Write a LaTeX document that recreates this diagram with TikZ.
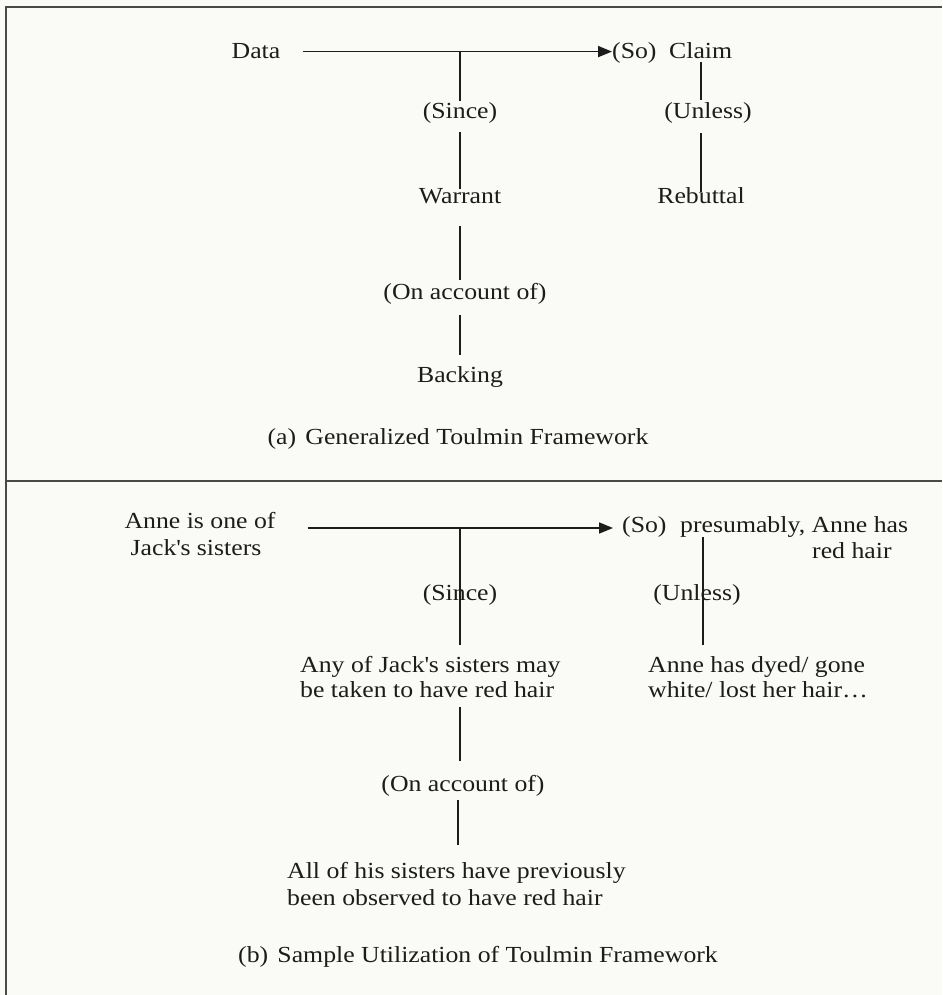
\documentclass[tikz,border=0pt]{standalone}
\usepackage{fontspec}
\setmainfont{Liberation Serif}[FakeStretch=1.12]
\usetikzlibrary{arrows.meta}
\definecolor{paper}{RGB}{250,250,246}
\definecolor{ink}{RGB}{28,28,28}
\begin{document}
\begin{tikzpicture}[x=1pt,y=-1pt,
  lbl/.style={inner sep=0pt, anchor=base, text=ink, font=\fontsize{23}{27}\selectfont},
  lblw/.style={lbl, anchor=base west},
  link/.style={draw=ink, line width=1.4pt},
  flow/.style={link, line width=1.7pt, -{Triangle[length=14pt,width=11pt]}},
  rule/.style={draw=ink!80, line width=2pt}]
\fill[paper] (0,0) rectangle (942,995);
\useasboundingbox (0,0) rectangle (942,995);

% panel frame and divider
\coordinate (tl) at (6,7);
\coordinate (tr) at (942,7);
\coordinate (bl) at (6,995);
\coordinate (ml) at (6,481);
\coordinate (mr) at (942,481);
\draw[rule] (tr) -- (tl) -- (bl);
\draw[rule] (ml) -- (mr);

% ---------- (a) generalized framework ----------
\node[lbl]  (data)    at (256,59)  {Data};
\node[lblw] (claim)   at (612,59)  {(So)\hspace{0.55em}Claim};
\node[lbl]  (since)   at (460,119) {(Since)};
\node[lbl]  (unless)  at (708,119) {(Unless)};
\node[lbl]  (warrant) at (460,204) {Warrant};
\node[lbl]  (rebut)   at (701,204) {Rebuttal};
\node[lbl]  (onacc)   at (465,299) {(On account of)};
\node[lbl]  (backing) at (460,382) {Backing};
\node[lbl]  (capa)    at (458,444) {(a)\hspace{0.4em}Generalized Toulmin Framework};

\draw[flow] ([xshift=22pt]data.east) -- (claim.west |- data.east);
\draw[link] (since.north |- data.east) -- ([yshift=2pt]since.north);
\draw[link] ([yshift=-8pt]since.south) -- (warrant.north);
\draw[link] ([yshift=-21pt]warrant.south) -- ([yshift=3pt]warrant.south |- onacc.north);
\draw[link] ([yshift=-11pt]warrant.south |- onacc.south) -- ([yshift=11pt]backing.north);
\draw[link] ([yshift=2pt]rebut.north |- claim.south) -- ([yshift=3pt]rebut.north |- unless.north);
\draw[link] ([yshift=-9pt]rebut.north |- unless.south) -- ([yshift=-4pt]rebut.north);

% ---------- (b) sample utilization ----------
\node[lbl]  (anne1) at (200,528) {Anne is one of};
\node[lbl]  (anne2) at (196,555) {Jack\textquotesingle s sisters};
\node[lblw] (so2)   at (622,532) {(So)};
\node[lblw] (pres1) at (680,532) {presumably, Anne has};
\node[lblw] (pres2) at (812,558) {red hair};
\node[lbl]  (since2)  at (460,600) {(Since)};
\node[lbl]  (unless2) at (697,600) {(Unless)};
\node[lblw] (any1)  at (300,672) {Any of Jack\textquotesingle s sisters may};
\node[lblw] (any2)  at (300,697) {be taken to have red hair};
\node[lblw] (dyed1) at (648,672) {Anne has dyed/ gone};
\node[lblw] (dyed2) at (648,697) {white/ lost her hair…};
\node[lbl]  (onacc2) at (463,791) {(On account of)};
\node[lblw] (all1)  at (287,878) {All of his sisters have previously};
\node[lblw] (all2)  at (287,905) {been observed to have red hair};
\node[lbl]  (capb)  at (478,962) {(b)\hspace{0.4em}Sample Utilization of Toulmin Framework};

\draw[flow, shorten >=9pt] ([xshift=32pt]anne1.base east) -- (so2.west |- anne1.base east);
\draw[link] (since2.center |- anne1.base east) -- ([yshift=-40pt]since2.south);
\draw[link] ([xshift=6pt]unless2.center |- pres1.south) -- ([xshift=6pt,yshift=-40pt]unless2.south);
\draw[link] ([yshift=-10pt]since2.center |- any2.south) -- ([yshift=14pt]since2.center |- onacc2.north);
\draw[link] ([xshift=-2pt,yshift=-4pt]since2.center |- onacc2.south) -- ([xshift=-2pt,yshift=17pt]since2.center |- all1.north);
\end{tikzpicture}
\end{document}
